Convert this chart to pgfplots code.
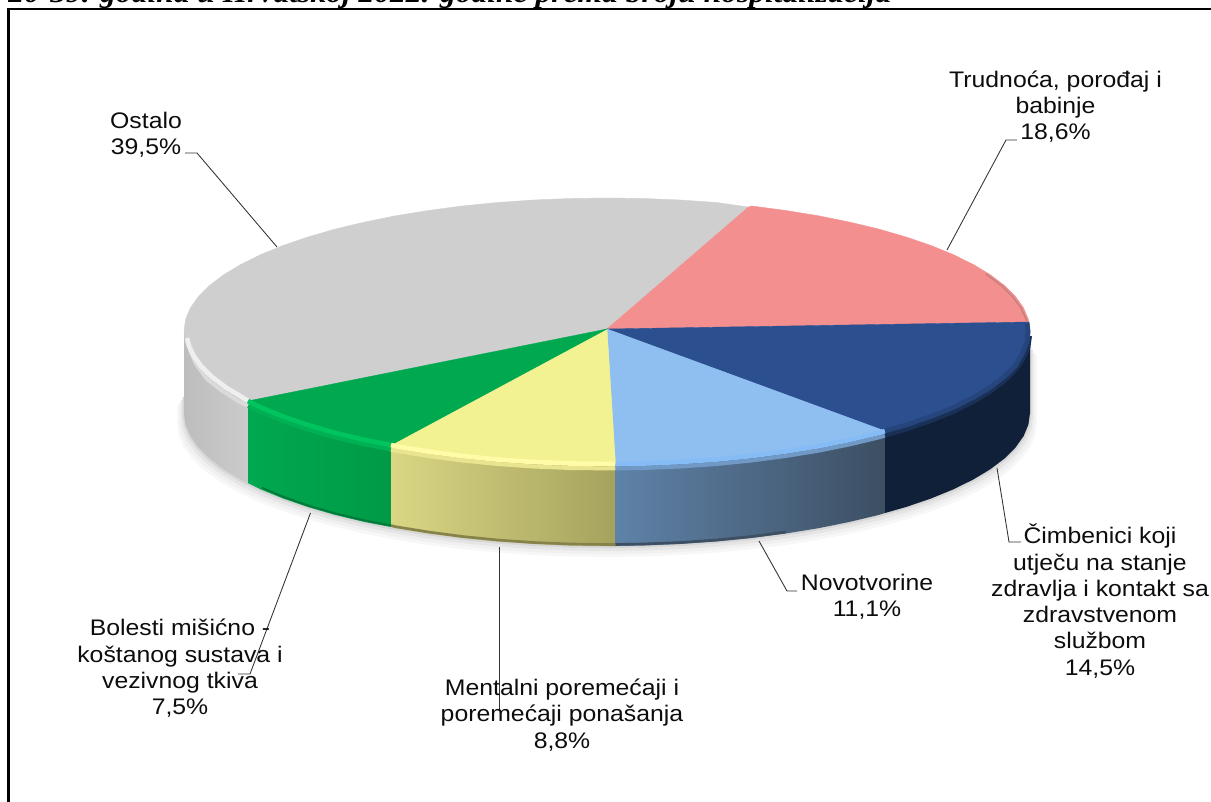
\documentclass[border=0pt]{standalone}
\usepackage{fontspec}
\usepackage{pgfplots}
\usepackage{pgfplotstable}
\pgfplotsset{compat=1.18}
\setmainfont[FakeStretch=1.1]{Liberation Sans}
\newfontfamily\titlefont[FakeStretch=1.1]{Liberation Serif}

% lower edge of the pie, in pixels of the reference
\pgfplotstableread{
x y
184 395
184 413
185.6 424.6
190.4 436.1
198.4 447.4
209.5 458.5
223.6 469.2
240.7 479.5
260.5 489.3
283 498.5
307.9 507
335.1 514.9
364.4 521.9
395.5 528.2
428.2 533.5
462.3 538
497.5 541.5
533.6 544
570.1 545.5
607 546
643.9 545.5
680.4 544
716.5 541.5
751.7 538
785.8 533.5
818.5 528.2
849.6 521.9
878.9 514.9
906.1 507
931 498.5
953.5 489.3
973.3 479.5
990.4 469.2
1004.5 458.5
1015.6 447.4
1023.6 436.1
1028.4 424.6
1030 413
1030 345
}\pieedge

\definecolor{cgray}{HTML}{CFCFCF}
\definecolor{cpink}{HTML}{F48F8F}
\definecolor{cnavy}{HTML}{2B4F8F}
\definecolor{cblue}{HTML}{8FBEF1}
\definecolor{cyellow}{HTML}{F3F292}
\definecolor{cgreen}{HTML}{00A850}

\tikzset{lead/.style={color=black!80,line width=0.65pt,no markers},
  lab/.style={font=\fontsize{16.9}{19.7}\selectfont,align=center,inner sep=0pt,text=black!95},
  rim/.style={line width=#1,no markers,line cap=butt}}

\begin{document}
\begin{tikzpicture}
\clip (0,0) rectangle (908.25pt,601.5pt);
\begin{axis}[
    scale only axis,
    width=908.25pt,
    height=601.5pt,
    xmin=0, xmax=1211,
    ymin=0, ymax=802,
    y dir=reverse,
    axis lines=none,
    clip=false,
]
% frame
\addplot[black,line width=1.6pt,no markers] coordinates {(8.5,802) (8.5,9) (1211,9)};

% shadow
\addplot[fill=black!3,draw=none,no markers] table[x expr=607+(\thisrow{x}-607)*1.016,y expr=\thisrow{y}+11] {\pieedge} -- cycle;
\addplot[fill=black!6,draw=none,no markers] table[x expr=607+(\thisrow{x}-607)*1.012,y expr=\thisrow{y}+8] {\pieedge} -- cycle;
\addplot[fill=black!10,draw=none,no markers] table[x expr=607+(\thisrow{x}-607)*1.007,y expr=\thisrow{y}+5] {\pieedge} -- cycle;
\addplot[fill=black!16,draw=none,no markers] table[x expr=607+(\thisrow{x}-607)*1.003,y expr=\thisrow{y}+2] {\pieedge} -- cycle;

% walls
\definecolor{wg1}{HTML}{BDBDBD}\definecolor{wg2}{HTML}{CBCBCB}
\definecolor{wy1}{HTML}{D9D684}\definecolor{wy2}{HTML}{A5A25E}
\definecolor{wb1}{HTML}{5F82A8}\definecolor{wb2}{HTML}{3C4F63}
\definecolor{wgr}{HTML}{009A46}
\addplot[left color=wg1,right color=wg2,draw=none,no markers] coordinates {(184,331) (184,413) (185.6,424.6) (190.4,436.1) (198.4,447.4) (209.5,458.5) (223.6,469.2) (240.7,479.5) (248,483) (248,401)} -- cycle;
\addplot[left color=cgreen,right color=wgr,draw=none,no markers] coordinates {(248,401) (248,483) (260.5,489.3) (283,498.5) (307.9,507) (335.1,514.9) (364.4,521.9) (391,527) (391,445)} -- cycle;
\addplot[left color=wy1,right color=wy2,draw=none,no markers] coordinates {(391,445) (391,527) (395.5,528.2) (428.2,533.5) (462.3,538) (497.5,541.5) (533.6,544) (570.1,545.5) (607,546) (615.5,546) (615.5,464)} -- cycle;
\addplot[left color=wb1,right color=wb2,draw=none,no markers] coordinates {(615.5,464) (615.5,546) (643.9,545.5) (680.4,544) (716.5,541.5) (751.7,538) (785.8,533.5) (818.5,528.2) (849.6,521.9) (878.9,514.9) (885,513) (885,431)} -- cycle;
\addplot[fill=cnavy!40!black,draw=none,no markers] coordinates {(885,431) (885,513) (906.1,507) (931,498.5) (953.5,489.3) (973.3,479.5) (990.4,469.2) (1004.5,458.5) (1015.6,447.4) (1023.6,436.1) (1028.4,424.6) (1030,413) (1030,331)} -- cycle;

% dark lower rim of the walls
\definecolor{dg}{HTML}{007A3A}\definecolor{dy}{HTML}{85824A}\definecolor{db}{HTML}{3E4F63}
\addplot[rim=1.5pt,color=dg] coordinates {(262,487.8) (284,497) (308,505.5) (335.1,513.4) (364.4,520.4) (391,525.5)};
\addplot[rim=2pt,color=dy] coordinates {(391,525.5) (395.5,526.7) (428.2,532) (462.3,536.5) (497.5,540) (533.6,542.5) (570.1,544) (607,544.5) (615.5,544.5)};
\addplot[rim=2pt,color=db] coordinates {(615.5,544.5) (643.9,544) (680.4,542.5) (716.5,540) (751.7,536.5) (785.8,532)};

% soft band under the rim
\definecolor{mgr}{HTML}{00B054}\definecolor{my}{HTML}{E8E48F}\definecolor{mb}{HTML}{7099C5}
\definecolor{mn}{HTML}{1A3157}\definecolor{mg}{HTML}{DADADA}
\addplot[rim=3pt,color=mg] coordinates {(190,350) (196,364) (207,379) (221,390) (238,401) (248,406)};
\addplot[rim=3pt,color=mgr] coordinates {(248,406) (260.5,412) (283,421) (307.9,429.5) (335.1,437.4) (364.4,444.4) (391,449.5)};
\addplot[rim=3pt,color=my] coordinates {(391,449.5) (395.5,450.7) (428.2,456) (462.3,460.5) (497.5,464) (533.6,466.5) (570.1,468) (615.5,468.5)};
\addplot[rim=3pt,color=mb] coordinates {(615.5,468.5) (643.9,468) (680.4,466.5) (716.5,464) (751.7,460.5) (785.8,456) (818.5,450.7) (849.6,444.4) (878.9,437.4) (885,435.5)};
\addplot[rim=3pt,color=mn] coordinates {(885,435.5) (906.1,429.5) (931,421) (953.5,411.8) (973.3,402) (990.4,391.7) (1004.5,381) (1015.6,369.9) (1023.6,358.6) (1028.4,347) (1030,336)};

% top faces
\addplot[fill=cgray,draw=cgray,line width=0.3pt,no markers] coordinates {(607,329) (748.5,207) (716.5,202.5) (680.4,200) (643.9,198.5) (607,198) (570.1,198.5) (533.6,200) (497.5,202.5) (462.3,206) (428.2,210.5) (395.5,215.8) (364.4,222.1) (335.1,229.1) (307.9,237) (283,245.5) (260.5,254.7) (240.7,264.5) (223.6,274.8) (209.5,285.5) (198.4,296.6) (190.4,307.9) (185.6,319.4) (184,331) (185.6,342.6) (190.4,354.1) (198.4,365.4) (209.5,376.5) (223.6,387.2) (240.7,397.5) (248,401)} -- cycle;
\addplot[fill=cpink,draw=cpink,line width=0.3pt,no markers] coordinates {(607,329) (748.5,207) (751.7,206) (785.8,210.5) (818.5,215.8) (849.6,222.1) (878.9,229.1) (906.1,237) (931,245.5) (953.5,254.7) (973.3,264.5) (990.4,274.8) (1004.5,285.5) (1015.6,296.6) (1023.6,307.9) (1028.4,319.4) (1029,322)} -- cycle;
\addplot[fill=cnavy,draw=cnavy,line width=0.3pt,no markers] coordinates {(607,329) (1029,322) (1030,331) (1028.4,342.6) (1023.6,354.1) (1015.6,365.4) (1004.5,376.5) (990.4,387.2) (973.3,397.5) (953.5,407.3) (931,416.5) (906.1,425) (885,431)} -- cycle;
\addplot[fill=cblue,draw=cblue,line width=0.3pt,no markers] coordinates {(607,329) (885,431) (878.9,432.9) (849.6,439.9) (818.5,446.2) (785.8,451.5) (751.7,456) (716.5,459.5) (680.4,462) (643.9,463.5) (615.5,464)} -- cycle;
\addplot[fill=cyellow,draw=cyellow,line width=0.3pt,no markers] coordinates {(607,329) (615.5,464) (607,464) (570.1,463.5) (533.6,462) (497.5,459.5) (462.3,456) (428.2,451.5) (395.5,446.2) (391,445)} -- cycle;
\addplot[fill=cgreen,draw=cgreen,line width=0.3pt,no markers] coordinates {(607,329) (391,445) (364.4,439.9) (335.1,432.9) (307.9,425) (283,416.5) (260.5,407.3) (248,401)} -- cycle;

% bright band along the rim
\definecolor{bgr}{HTML}{00C45E}\definecolor{by}{HTML}{FFFBA6}\definecolor{bb}{HTML}{86BCF5}
\definecolor{bn}{HTML}{25457C}\definecolor{bg}{HTML}{EFEFEF}\definecolor{bp}{HTML}{C78080}
\addplot[rim=3.5pt,color=bg] coordinates {(187,338) (189,346) (193.5,355.5) (201,366) (212,377) (226,387.5) (242.5,397.5) (248,401)};
\addplot[rim=3.5pt,color=bgr] coordinates {(248,401) (260.5,407.3) (283,416.5) (307.9,425) (335.1,432.9) (364.4,439.9) (391,445)};
\addplot[rim=3.5pt,color=by] coordinates {(391,445) (395.5,446.2) (428.2,451.5) (462.3,456) (497.5,459.5) (533.6,462) (570.1,463.5) (615.5,464)};
\addplot[rim=3.5pt,color=bb] coordinates {(615.5,464) (643.9,463.5) (680.4,462) (716.5,459.5) (751.7,456) (785.8,451.5) (818.5,446.2) (849.6,439.9) (878.9,432.9) (885,431)};
\addplot[rim=3.5pt,color=bn] coordinates {(885,431) (906.1,425) (931,416.5) (953.5,407.3) (973.3,397.5) (990.4,387.2) (1004.5,376.5) (1015.6,365.4) (1022,354) (1027,342) (1028,331) (1027,323)};
\addplot[rim=1.2pt,color=bp] coordinates {(986,274) (1002,286) (1013,297) (1021,308) (1026,319) (1027,322)};

% leader lines
\addplot[lead] coordinates {(185,153) (197,153) (277,247)};
\addplot[lead] coordinates {(1017,140) (1006,140) (947,250)};
\addplot[lead] coordinates {(997,468) (1009,542) (1021,542)};
\addplot[lead] coordinates {(759,541) (787,591) (797,591)};
\addplot[lead] coordinates {(499.5,547) (499.5,710)};
\addplot[lead] coordinates {(310.5,513) (250,674) (238,674)};

% labels
\node[lab] at (axis cs:146,134.5) {Ostalo\\39,5\%};
\node[lab] at (axis cs:1055.5,106.5) {Trudnoća, porođaj i\\babinje\\18,6\%};
\node[lab] at (axis cs:1100,601) {Čimbenici koji\\utječu na stanje\\zdravlja i kontakt sa\\zdravstvenom\\službom\\14,5\%};
\node[lab] at (axis cs:867,597) {Novotvorine\\11,1\%};
\node[lab] at (axis cs:562,715) {Mentalni poremećaji i\\poremećaji ponašanja\\8,8\%};
\node[lab] at (axis cs:180,668.5) {Bolesti mišićno -\\koštanog sustava i\\vezivnog tkiva\\7,5\%};

% title, cut off by the page edge as in the reference
\node[anchor=base west,inner sep=0pt,font=\titlefont\fontsize{21.5}{24}\selectfont\bfseries\itshape] at (axis cs:8,3) {20-39. godina u Hrvatskoj 2022. godine prema broju hospitalizacija};
\end{axis}
\end{tikzpicture}
\end{document}
